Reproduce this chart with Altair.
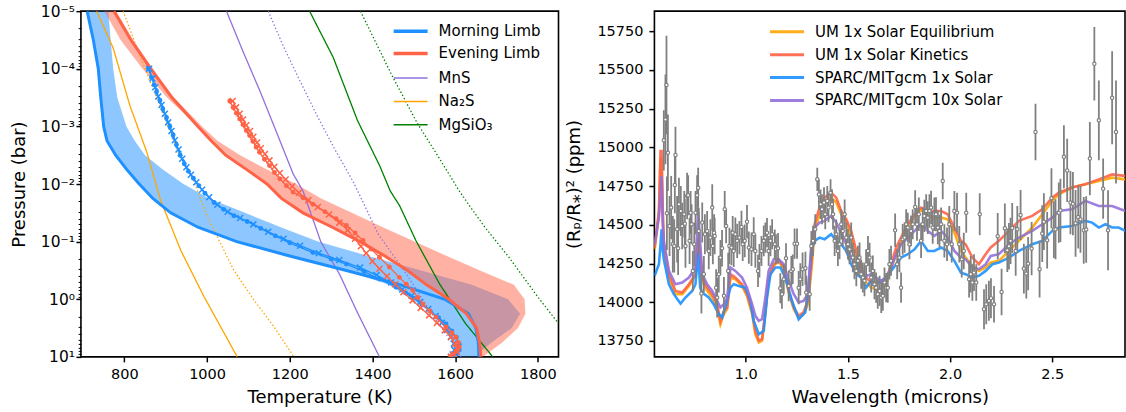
import altair as alt
import pandas as pd

# ---------------- colours ----------------
BLUE = "#1E90FF"
RED = "#FF6347"
PURPLE = "#9370DB"
ORANGE = "#FFA500"
GREEN = "#008000"
GREY = "#808080"

# ================= LEFT PANEL: T-P profiles =================
# log10(pressure / bar) levels for the limb profiles and bands
LOGP_LEVELS = [-5, -4.5, -4, -3.5, -3, -2.75, -2.5, -2.25, -2, -1.75, -1.5, -1.25,
               -1, -0.75, -0.5, -0.25, 0, 0.25, 0.5, 0.75, 0.9, 1.0]
MORNING_T = [710, 725, 737, 743, 750, 758, 779, 806, 836, 869, 912, 978,
             1072, 1200, 1337, 1468, 1575, 1632, 1650, 1656, 1657, 1657]
MORNING_BAND_LO = [710, 725, 737, 743, 750, 758, 779, 806, 836, 869, 912, 978,
                   1072, 1200, 1337, 1440, 1495, 1545, 1580, 1600, 1600, 1595]
MORNING_BAND_HI = [761, 767, 773, 783, 805, 825, 850, 893, 943, 1005, 1092, 1178,
                   1270, 1390, 1518, 1640, 1728, 1757, 1737, 1688, 1663, 1657]
EVENING_T = [775, 816, 864, 915, 978, 1010, 1045, 1096, 1145, 1180, 1232, 1303,
             1370, 1430, 1485, 1531, 1585, 1627, 1652, 1659, 1661, 1662]
EVENING_BAND_A = [752, 791, 844, 903, 978, 1010, 1045, 1096, 1145, 1180, 1232, 1303,
                  1370, 1430, 1485, 1531, 1585, 1627, 1652, 1659, 1661, 1662]
EVENING_BAND_B = [780, 821, 869, 920, 988, 1025, 1080, 1145, 1215, 1276, 1350, 1425,
                  1503, 1580, 1660, 1742, 1768, 1770, 1752, 1714, 1686, 1667]

# profiles with markers
BLUE_DOT_T = [858, 866, 872, 878, 886, 893, 902, 910, 918, 926, 935, 945, 955, 967, 980,
              995, 1017, 1040, 1065, 1097, 1130, 1165, 1200, 1256, 1300, 1337, 1380, 1417,
              1457, 1480, 1500, 1520, 1540, 1560, 1578, 1592, 1603, 1610, 1610, 1603, 1598]
BLUE_DOT_LP = [-4.0, -3.85, -3.72, -3.6, -3.45, -3.3, -3.15, -3.0, -2.85, -2.68, -2.5, -2.35,
               -2.22, -2.1, -1.97, -1.84, -1.68, -1.56, -1.45, -1.35, -1.23, -1.1, -0.98,
               -0.81, -0.7, -0.61, -0.48, -0.35, -0.21, -0.11, -0.02, 0.09, 0.21, 0.32,
               0.43, 0.55, 0.66, 0.78, 0.88, 0.96, 1.0]
BLUE_X_T = [860, 868, 875, 882, 890, 898, 906, 914, 922, 931, 940, 950, 961, 974, 988, 1005,
            1025, 1050, 1080, 1112, 1148, 1185, 1225, 1270, 1320, 1370, 1410, 1445, 1472,
            1495, 1515, 1535, 1553, 1568, 1580, 1590, 1597, 1598, 1594, 1590]
BLUE_X_LP = [-4.0, -3.83, -3.68, -3.52, -3.37, -3.22, -3.07, -2.92, -2.76, -2.6, -2.44, -2.29,
             -2.16, -2.03, -1.9, -1.77, -1.64, -1.52, -1.41, -1.3, -1.17, -1.05, -0.93, -0.8,
             -0.68, -0.55, -0.42, -0.29, -0.17, -0.06, 0.05, 0.17, 0.29, 0.41, 0.53, 0.65,
             0.77, 0.88, 0.96, 1.0]
RED_DOT_T = [1055, 1063, 1071, 1079, 1087, 1095, 1103, 1111, 1119, 1127, 1139, 1151, 1163,
             1176, 1192, 1208, 1232, 1256, 1285, 1312, 1337, 1358, 1377, 1397, 1417, 1441,
             1465, 1482, 1498, 1510, 1522, 1538, 1554, 1578, 1592, 1602, 1608, 1610, 1604,
             1594, 1588]
RED_DOT_LP = [-3.44, -3.33, -3.23, -3.13, -3.03, -2.93, -2.84, -2.74, -2.64, -2.55, -2.43,
              -2.32, -2.2, -2.09, -1.97, -1.86, -1.76, -1.65, -1.52, -1.4, -1.28, -1.15,
              -1.02, -0.87, -0.73, -0.56, -0.38, -0.26, -0.15, -0.03, 0.08, 0.2, 0.31, 0.48,
              0.58, 0.66, 0.75, 0.83, 0.9, 0.95, 1.0]
RED_X_T = [1062, 1070, 1079, 1087, 1095, 1104, 1112, 1121, 1130, 1140, 1151, 1163, 1176,
           1190, 1206, 1222, 1245, 1268, 1295, 1320, 1340, 1358, 1372, 1385, 1400, 1417,
           1435, 1455, 1475, 1497, 1517, 1537, 1556, 1575, 1590, 1600, 1605, 1604, 1598, 1590]
RED_X_LP = [-3.44, -3.33, -3.22, -3.12, -3.02, -2.92, -2.82, -2.72, -2.62, -2.52, -2.41, -2.3,
            -2.19, -2.08, -1.96, -1.85, -1.72, -1.6, -1.47, -1.33, -1.2, -1.05, -0.92, -0.8,
            -0.66, -0.53, -0.4, -0.26, -0.12, 0.02, 0.15, 0.28, 0.41, 0.54, 0.66, 0.77, 0.85,
            0.91, 0.96, 1.0]

# condensation curves
MNS_SOLID_T = [1047, 1087, 1127, 1168, 1208, 1232, 1275, 1320, 1365, 1417]
MNS_SOLID_LP = [-5, -4.3, -3.63, -2.9, -2.18, -1.88, -1.0, -0.44, 0.25, 1.0]
MNS_DOT_T = [1148, 1184, 1224, 1268, 1310, 1355, 1414, 1482, 1538, 1594, 1614]
MNS_DOT_LP = [-5, -4.4, -3.8, -3.16, -2.59, -2.02, -1.13, -0.44, 0.19, 0.77, 1.0]
NA2S_SOLID_T = [733, 773, 813, 854, 888, 937, 993, 1033, 1073]
NA2S_SOLID_LP = [-5, -4.36, -3.37, -2.56, -1.71, -0.84, -0.04, 0.48, 1.0]
NA2S_DOT_T = [797, 829, 850, 895, 930, 966, 1001, 1025, 1065, 1114, 1162, 1210]
NA2S_DOT_LP = [-5, -4.39, -4.0, -3.19, -2.56, -2.09, -1.43, -1.08, -0.5, 0.02, 0.48, 1.0]
MGSIO3_SOLID_T = [1248, 1305, 1364, 1418, 1443, 1466, 1505, 1562, 1625, 1691]
MGSIO3_SOLID_LP = [-5, -4.2, -3.1, -2.31, -1.88, -1.62, -1.02, -0.27, 0.42, 1.0]
MGSIO3_DOT_T = [1371, 1444, 1508, 1558, 1610, 1635, 1672, 1730, 1800, 1850]
MGSIO3_DOT_LP = [-5, -3.93, -3.06, -2.49, -1.88, -1.62, -1.25, -0.73, -0.04, 0.42]

LIMB_NAMES = ["Morning Limb", "Evening Limb"]
COND_NAMES = ["MnS", "Na\u2082S", "MgSiO\u2083"]

# ================= RIGHT PANEL: transmission spectrum =================
EQ_KIN_WL = [0.554, 0.575, 0.583, 0.588, 0.594, 0.599, 0.624, 0.656, 0.689, 0.722, 0.754,
             0.767, 0.787, 0.811, 0.836, 0.860, 0.876, 0.893, 0.909, 0.925, 0.949, 0.982,
             1.006, 1.031, 1.047, 1.064, 1.080, 1.096, 1.112, 1.137, 1.161, 1.186, 1.210,
             1.235, 1.259, 1.283, 1.304, 1.321, 1.337, 1.361, 1.386, 1.418, 1.443, 1.467,
             1.492, 1.516, 1.541, 1.565, 1.589, 1.614, 1.638, 1.663, 1.687, 1.711, 1.736,
             1.760, 1.793, 1.826, 1.858, 1.891, 1.923, 1.956, 1.988, 2.021, 2.053, 2.076,
             2.109, 2.141, 2.174, 2.199, 2.239, 2.288, 2.337, 2.402, 2.451, 2.500, 2.532,
             2.597, 2.662, 2.728, 2.793, 2.858]
UM_EQ_PPM = [14342, 14568, 14933, 14912, 14546, 14353, 14159, 14052, 14052, 14105, 14170,
             14396, 14138, 14073, 14030, 13966, 13858, 13923, 13955, 14159, 14148, 14105,
             14041, 13923, 13794, 13740, 13751, 13934, 14148, 14235, 14267, 14213, 14062,
             13955, 13901, 13923, 13987, 14202, 14460, 14568, 14632, 14675, 14643, 14568,
             14525, 14417, 14288, 14181, 14127, 14094, 14084, 14084, 14116, 14213, 14310,
             14385, 14482, 14557, 14600, 14557, 14546, 14546, 14535, 14449, 14331, 14288,
             14235, 14202, 14224, 14256, 14267, 14331, 14396, 14482, 14568, 14654, 14696,
             14740, 14761, 14782, 14804, 14793]
UM_KIN_PPM = [14353, 14589, 14976, 14976, 14589, 14374, 14181, 14073, 14062, 14116, 14181,
              14417, 14159, 14094, 14052, 13987, 13879, 13944, 13966, 14181, 14159, 14116,
              14052, 13944, 13815, 13751, 13761, 13944, 14159, 14245, 14277, 14224, 14073,
              13966, 13912, 13934, 14009, 14245, 14503, 14611, 14675, 14707, 14675, 14589,
              14535, 14460, 14331, 14224, 14159, 14127, 14127, 14127, 14138, 14245, 14353,
              14417, 14503, 14568, 14611, 14589, 14589, 14589, 14568, 14482, 14396, 14374,
              14288, 14245, 14310, 14353, 14396, 14460, 14525, 14557, 14600, 14675, 14707,
              14740, 14761, 14793, 14825, 14815]
SPARC10_PPM = [14374, 14546, 14700, 14815, 14503, 14396, 14202, 14116, 14127, 14159, 14224,
               14589, 14181, 14116, 14073, 14009, 13966, 13987, 14030, 14224, 14202, 14159,
               14094, 13987, 13912, 13879, 13890, 14030, 14202, 14277, 14277, 14245, 14138,
               14052, 13998, 14009, 14052, 14374, 14482, 14514, 14525, 14557, 14514, 14449,
               14374, 14288, 14245, 14181, 14170, 14181, 14159, 14138, 14159, 14224, 14310,
               14374, 14417, 14460, 14503, 14460, 14428, 14460, 14417, 14331, 14288, 14277,
               14224, 14213, 14245, 14299, 14310, 14374, 14417, 14460, 14503, 14546, 14589,
               14600, 14654, 14621, 14621, 14589]
SPARC1_WL = [0.554, 0.575, 0.583, 0.588, 0.594, 0.599, 0.624, 0.648, 0.681, 0.705, 0.738,
             0.754, 0.767, 0.777, 0.787, 0.819, 0.843, 0.868, 0.884, 0.900, 0.925, 0.941,
             0.966, 0.998, 1.022, 1.039, 1.064, 1.088, 1.104, 1.121, 1.145, 1.169, 1.194,
             1.226, 1.259, 1.291, 1.304, 1.321, 1.337, 1.361, 1.386, 1.418, 1.443, 1.467,
             1.492, 1.516, 1.541, 1.565, 1.589, 1.614, 1.638, 1.663, 1.687, 1.711, 1.736,
             1.760, 1.793, 1.826, 1.858, 1.891, 1.923, 1.956, 1.988, 2.021, 2.053, 2.076,
             2.109, 2.141, 2.174, 2.207, 2.239, 2.288, 2.337, 2.402, 2.451, 2.500, 2.532,
             2.597, 2.662, 2.695, 2.728, 2.760, 2.793, 2.825, 2.858]
SPARC1_PPM = [14170, 14245, 14374, 14471, 14331, 14277, 14116, 14052, 13991, 14030, 14073,
              14116, 14320, 14094, 14062, 14030, 13987, 13922, 13901, 13966, 14094, 14116,
              14105, 14094, 14009, 13879, 13793, 13815, 14030, 14181, 14224, 14224, 14159,
              14009, 13890, 13934, 14052, 14331, 14396, 14417, 14406, 14439, 14396, 14374,
              14331, 14245, 14181, 14159, 14094, 14138, 14116, 14138, 14159, 14202, 14245,
              14288, 14310, 14342, 14396, 14331, 14331, 14353, 14331, 14267, 14191, 14181,
              14159, 14170, 14202, 14245, 14256, 14288, 14331, 14374, 14396, 14460, 14482,
              14492, 14525, 14514, 14482, 14503, 14482, 14482, 14460]
MODEL_NAMES = ["UM 1x Solar Equilibrium", "UM 1x Solar Kinetics",
               "SPARC/MITgcm 1x Solar", "SPARC/MITgcm 10x Solar"]

# observed spectrum
DATA_WL = [0.599, 0.607, 0.612, 0.619, 0.614, 0.627, 0.635, 0.643, 0.650, 0.656,
           0.653, 0.664, 0.669, 0.673, 0.682, 0.689, 0.699, 0.702, 0.705, 0.713,
           0.718, 0.725, 0.730, 0.735, 0.741, 0.748, 0.754, 0.762, 0.767, 0.770,
           0.783, 0.787, 0.795, 0.800, 0.811, 0.819, 0.827, 0.836, 0.839, 0.845,
           0.848, 0.855, 0.860, 0.868, 0.876, 0.884, 0.893, 0.897, 0.904, 0.914,
           0.920, 0.930, 0.936, 0.941, 0.949, 0.958, 0.969, 0.979, 0.985, 0.995,
           1.006, 1.015, 1.028, 1.039, 1.047, 1.060, 1.067, 1.077, 1.088, 1.096,
           1.104, 1.112, 1.121, 1.129, 1.142, 1.148, 1.158, 1.169, 1.177, 1.186,
           1.197, 1.210, 1.223, 1.230, 1.239, 1.251, 1.259, 1.267, 1.278, 1.292,
           1.296,
           1.313, 1.321, 1.329, 1.340, 1.350, 1.358, 1.366, 1.373, 1.383, 1.389,
           1.399, 1.405, 1.415, 1.422, 1.427, 1.435, 1.443, 1.451, 1.459, 1.467,
           1.475, 1.484, 1.492, 1.500, 1.508, 1.516, 1.524, 1.532, 1.541, 1.549,
           1.557, 1.565, 1.573, 1.581, 1.589, 1.598, 1.606, 1.614, 1.622, 1.630,
           1.638, 1.646, 1.655, 1.663, 1.671, 1.679, 1.687, 1.695, 1.703, 1.711,
           1.731, 1.741, 1.752, 1.760, 1.768, 1.777, 1.785, 1.793, 1.801, 1.809,
           1.817, 1.829, 1.838, 1.847, 1.858, 1.866, 1.874, 1.883, 1.891, 1.899,
           1.907, 1.915, 1.923, 1.931, 1.940, 1.948, 1.956, 1.964, 1.972, 1.985,
           1.996, 2.008, 2.021, 2.034, 2.045, 2.057, 2.067,
           2.079, 2.093, 2.101, 2.109, 2.117, 2.128, 2.145, 2.166, 2.177, 2.190,
           2.200, 2.215, 2.233, 2.252, 2.268, 2.280, 2.288, 2.296, 2.304, 2.321,
           2.329, 2.345, 2.361, 2.373, 2.382, 2.399, 2.418, 2.438, 2.451, 2.459,
           2.475, 2.496, 2.508, 2.516, 2.532, 2.540, 2.557, 2.573, 2.589, 2.601,
           2.614, 2.627, 2.638, 2.654, 2.666, 2.684, 2.706, 2.728, 2.749, 2.773,
           2.793, 2.812]
DATA_PPM = [15045, 15180, 15402, 14965, 14574, 14492, 14611, 14374, 14363, 14950,
            14757, 14471, 14348, 14632, 14589, 14492, 14568, 14507, 14363, 14686,
            14690, 14396, 14578, 14503, 14202, 14374, 14578, 14690, 14739, 14460,
            14056, 14514, 14181, 14439, 14460, 14331, 14417, 14611, 14363, 14449,
            14428, 14094, 14030, 14181, 14288, 14348, 14041, 14600, 14492, 14202,
            14363, 14353, 14449, 14331, 14439, 14396, 14417, 14486, 14374, 14396,
            14520, 14353, 14342, 14439, 14331, 14202, 14267, 14331, 14396, 14417,
            14449, 14331, 14396, 14439, 14374, 14342, 14348, 14090, 14052, 14148,
            14284, 14105, 14202, 14213, 14378, 14378, 14094, 14148, 14213, 14219,
            14062,
            14052, 14363, 14396, 14471, 14793, 14696, 14632, 14600, 14643, 14568,
            14654, 14611, 14707, 14632, 14568, 14396, 14439, 14331, 14374, 14503,
            14460, 14568, 14417, 14374, 14342, 14417, 14288, 14245, 14202, 14267,
            14288, 14181, 14159, 14138, 14245, 14331, 14288, 14159, 14202, 14116,
            14094, 14052, 14073, 14030, 14041, 14127, 14094, 14094, 14245, 14267,
            14464, 14245, 14288, 14094, 14406, 14417, 14503, 14482, 14374, 14460,
            14503, 14615, 14503, 14568, 14396, 14503, 14557, 14589, 14546, 14589,
            14611, 14482, 14568, 14568, 14482, 14460, 14503, 14782, 14396, 14374,
            14503, 14374, 14589, 14578, 14374, 14277, 14331,
            14578, 14148, 14181, 14127, 14191, 14127, 14568, 13955, 13987, 14009,
            14026, 13987, 14426, 14066, 14477, 14335, 14361, 14396, 14479, 14331,
            14471, 14563, 14217, 14185, 14249, 14346, 15099, 14213, 14443, 14520,
            14400, 14671, 14469, 14471, 14578, 14593, 14939, 14851, 14643, 14636,
            14509, 14550, 14535, 14464, 14469, 14927, 15539, 15174, 14733, 14464,
            15320, 15099]
DATA_ERR = [194, 290, 318, 247, 237, 194, 204, 183, 172, 183,
            183, 215, 172, 172, 161, 150, 150, 161, 140, 150,
            129, 150, 140, 129, 129, 140, 140, 129, 129, 150,
            129, 129, 118, 129, 129, 118, 118, 150, 118, 118,
            118, 118, 129, 118, 114, 118, 121, 118, 112, 118,
            118, 115, 108, 104, 108, 110, 108, 104, 108, 106,
            108, 104, 108, 110, 108, 104, 108, 97, 99, 97,
            95, 97, 99, 97, 95, 97, 99, 97, 95, 97,
            97, 99, 97, 95, 97, 97, 108, 104, 108, 106,
            108,
            108, 97, 97, 97, 75, 97, 95, 97, 99, 97,
            97, 95, 86, 97, 99, 97, 95, 97, 97, 99,
            97, 95, 97, 99, 97, 97, 95, 97, 99, 97,
            97, 95, 97, 99, 97, 97, 95, 97, 99, 97,
            97, 95, 97, 99, 97, 97, 95, 97, 99, 97,
            108, 97, 95, 97, 99, 97, 97, 95, 97, 99,
            97, 108, 106, 108, 110, 108, 104, 108, 106, 108,
            108, 104, 108, 110, 108, 106, 108, 118, 108, 108,
            118, 118, 129, 129, 118, 118, 118,
            129, 118, 118, 118, 118, 118, 135, 129, 129, 129,
            129, 118, 150, 150, 161, 140, 150, 150, 161, 161,
            150, 161, 161, 161, 172, 172, 183, 183, 183, 183,
            183, 194, 183, 194, 194, 204, 204, 204, 204, 204,
            215, 204, 215, 215, 215, 237, 237, 258, 194, 258,
            301, 333]

assert len(DATA_WL) == len(DATA_PPM) == len(DATA_ERR)
assert len(EQ_KIN_WL) == len(UM_EQ_PPM) == len(UM_KIN_PPM) == len(SPARC10_PPM)
assert len(SPARC1_WL) == len(SPARC1_PPM)

# ================= data frames =================
def pressures(lps):
    return [10.0 ** v for v in lps]

P_LEVELS = pressures(LOGP_LEVELS)
band_m = pd.DataFrame({"p": P_LEVELS, "lo": MORNING_BAND_LO, "hi": MORNING_BAND_HI})
band_e = pd.DataFrame({"p": P_LEVELS, "lo": EVENING_BAND_A, "hi": EVENING_BAND_B})

limb_rows = []
for name, temps in zip(LIMB_NAMES, [MORNING_T, EVENING_T]):
    for i, (t, p) in enumerate(zip(temps, P_LEVELS)):
        limb_rows.append({"name": name, "T": t, "p": p, "idx": i})
limb_df = pd.DataFrame(limb_rows)

cond_rows = []
for name, style, temps, lps in [
    (COND_NAMES[0], "solid", MNS_SOLID_T, MNS_SOLID_LP),
    (COND_NAMES[0], "dotted", MNS_DOT_T, MNS_DOT_LP),
    (COND_NAMES[1], "solid", NA2S_SOLID_T, NA2S_SOLID_LP),
    (COND_NAMES[1], "dotted", NA2S_DOT_T, NA2S_DOT_LP),
    (COND_NAMES[2], "solid", MGSIO3_SOLID_T, MGSIO3_SOLID_LP),
    (COND_NAMES[2], "dotted", MGSIO3_DOT_T, MGSIO3_DOT_LP),
]:
    for i, (t, p) in enumerate(zip(temps, pressures(lps))):
        cond_rows.append({"name": name, "style": style, "cid": name + style,
                          "T": t, "p": p, "idx": i})
cond_df = pd.DataFrame(cond_rows)


def prof_df(temps, lps):
    return pd.DataFrame({"T": temps, "p": pressures(lps), "idx": list(range(len(temps)))})


bdot_df = prof_df(BLUE_DOT_T, BLUE_DOT_LP)
bx_df = prof_df(BLUE_X_T, BLUE_X_LP)
rdot_df = prof_df(RED_DOT_T, RED_DOT_LP)
rx_df = prof_df(RED_X_T, RED_X_LP)

model_rows = []
for name, wls, vals in [(MODEL_NAMES[0], EQ_KIN_WL, UM_EQ_PPM),
                        (MODEL_NAMES[1], EQ_KIN_WL, UM_KIN_PPM),
                        (MODEL_NAMES[2], SPARC1_WL, SPARC1_PPM),
                        (MODEL_NAMES[3], EQ_KIN_WL, SPARC10_PPM)]:
    for w, v in zip(wls, vals):
        model_rows.append({"model": name, "wl": w, "ppm": v})
model_df = pd.DataFrame(model_rows)

obs_df = pd.DataFrame({"wl": DATA_WL, "ppm": DATA_PPM,
                       "lo": [v - e for v, e in zip(DATA_PPM, DATA_ERR)],
                       "hi": [v + e for v, e in zip(DATA_PPM, DATA_ERR)]})

# ================= scales and axes =================
X_L = alt.Scale(domain=[695, 1850], nice=False, zero=False)
Y_L = alt.Scale(type="log", domain=[1e-5, 10], reverse=True, nice=False)

MAJOR_TEST = "abs(log(datum.value)/LN10 - round(log(datum.value)/LN10)) < 0.01"
SUPS = "['\u2070','\u00b9','\u00b2','\u00b3','\u2074','\u2075','\u2076']"
LABEL_EXPR = ("(" + MAJOR_TEST + ") ? ('10' + (round(log(datum.value)/LN10) < 0 ? '\u207b' : '') + "
              + SUPS + "[abs(round(log(datum.value)/LN10))]) : ''")
Y_TICKS = [10.0 ** e for e in range(-5, 2)] + [m * 10.0 ** e for e in range(-5, 1) for m in range(2, 10)]

AX_YL = alt.Axis(title="Pressure (bar)", values=Y_TICKS, labelExpr=LABEL_EXPR, labelOverlap=False,
                 tickSize={"condition": {"test": MAJOR_TEST, "value": 5}, "value": 2.8},
                 tickWidth={"condition": {"test": MAJOR_TEST, "value": 1.5}, "value": 1.0},
                 labelPadding=1.5, labelFontSize=15.5, minExtent=37, maxExtent=37, titlePadding=15)
AX_XL = alt.Axis(title="Temperature (K)", values=[800, 1000, 1200, 1400, 1600, 1800], format="d",
                 tickSize=5, labelPadding=6, minExtent=26, maxExtent=26, titlePadding=6,
                 labelFlush=False)

X_R = alt.Scale(domain=[0.553, 2.856], nice=False, zero=False)
Y_R = alt.Scale(domain=[13647, 15879], nice=False, zero=False)
AX_XR = alt.Axis(title="Wavelength (microns)", values=[1.0, 1.5, 2.0, 2.5], format=".1f",
                 tickSize=5, labelPadding=6, minExtent=26, maxExtent=26, titlePadding=6,
                 labelFlush=False)
AX_YR = alt.Axis(title="(R\u209a/R\u204e)\u00b2 (ppm)", values=list(range(13750, 15751, 250)),
                 format="d", tickSize=5.5, labelPadding=6, minExtent=60, maxExtent=60,
                 titlePadding=11)

LEG_SHAPE = "M-2.5,0H2.5"


def xL(f):
    return alt.X(f, type="quantitative", scale=X_L, axis=AX_XL)


def yL(f):
    return alt.Y(f, type="quantitative", scale=Y_L, axis=AX_YL)


def xR(f):
    return alt.X(f, type="quantitative", scale=X_R, axis=AX_XR)


def yR(f):
    return alt.Y(f, type="quantitative", scale=Y_R, axis=AX_YR)


# ================= left layers =================
area_m = alt.Chart(band_m).mark_area(orient="horizontal", color=BLUE, opacity=0.5, clip=True).encode(
    y=yL("p"), x=xL("lo"), x2=alt.X2("hi"))
area_e = alt.Chart(band_e).mark_area(orient="horizontal", color=RED, opacity=0.5, clip=True).encode(
    y=yL("p"), x=xL("lo"), x2=alt.X2("hi"))

cond = alt.Chart(cond_df).mark_line(strokeWidth=1.3, clip=True).encode(
    x=xL("T"), y=yL("p"),
    stroke=alt.Stroke("name:N", scale=alt.Scale(domain=COND_NAMES, range=[PURPLE, ORANGE, GREEN]),
                      legend=alt.Legend(title=None, orient="none", legendX=322, legendY=59,
                                        symbolType=LEG_SHAPE, symbolSize=185, symbolStrokeWidth=1.5,
                                        labelOffset=20, rowPadding=7.3, padding=0, labelFontSize=15,
                                        labelLimit=300)),
    strokeDash=alt.StrokeDash("style:N", scale=alt.Scale(domain=["solid", "dotted"],
                                                          range=[[1, 0], [1.4, 2.2]]), legend=None),
    detail="cid:N", order="idx:Q")

limb = alt.Chart(limb_df).mark_line(strokeWidth=3, clip=True).encode(
    x=xL("T"), y=yL("p"),
    color=alt.Color("name:N", scale=alt.Scale(domain=LIMB_NAMES, range=[BLUE, RED]),
                    legend=alt.Legend(title=None, orient="none", legendX=321, legendY=11,
                                      symbolType=LEG_SHAPE, symbolSize=185, symbolStrokeWidth=3.5,
                                      labelOffset=19, rowPadding=5.3, padding=0, labelFontSize=15,
                                      labelLimit=300)),
    order="idx:Q")

XSHAPE = "M-1,-1L1,1M1,-1L-1,1"


def marker_layers(df, col, shape):
    line = alt.Chart(df).mark_line(color=col, strokeWidth=1.3, clip=True).encode(
        x=xL("T"), y=yL("p"), order="idx:Q")
    if shape == "circle":
        pts = alt.Chart(df).mark_point(shape="circle", filled=True, color=col, size=24,
                                       opacity=1, clip=True).encode(x=xL("T"), y=yL("p"))
    else:
        pts = alt.Chart(df).mark_point(shape=XSHAPE, filled=False, color=col, size=36,
                                       strokeWidth=1.5, opacity=1, clip=True).encode(x=xL("T"), y=yL("p"))
    return [line, pts]


left = alt.layer(
    area_m, area_e, cond, limb,
    *marker_layers(bdot_df, BLUE, "circle"),
    *marker_layers(bx_df, BLUE, "x"),
    *marker_layers(rdot_df, RED, "circle"),
    *marker_layers(rx_df, RED, "x"),
).properties(width=478, height=346)

# ================= right layers =================
models = alt.Chart(model_df).mark_line(strokeWidth=2.6, opacity=0.9, clip=True).encode(
    x=xR("wl"), y=yR("ppm"),
    color=alt.Color("model:N", scale=alt.Scale(domain=MODEL_NAMES, range=[ORANGE, RED, BLUE, PURPLE]),
                    legend=alt.Legend(title=None, orient="none", legendX=124.2, legendY=12.2,
                                      symbolType=LEG_SHAPE, symbolSize=185, symbolStrokeWidth=3,
                                      labelOffset=19.5, rowPadding=5.9, padding=0, labelFontSize=15,
                                      labelLimit=400)))

errbars = alt.Chart(obs_df).mark_rule(color=GREY, strokeWidth=1.8, clip=True).encode(
    x=xR("wl"), y=yR("lo"), y2=alt.Y2("hi"))
points = alt.Chart(obs_df).mark_point(shape="circle", filled=True, fill="white", stroke=GREY,
                                      strokeWidth=1.2, size=11, opacity=1, clip=True).encode(
    x=xR("wl"), y=yR("ppm"))

right = alt.layer(models, errbars, points).properties(width=471, height=346)

chart = alt.hconcat(left, right, spacing=96, bounds="flush").resolve_scale(
    color="independent", stroke="independent", x="independent", y="independent"
).properties(
    padding={"left": 10, "top": 3, "right": 0, "bottom": 0}
).configure(
    font="DejaVu Sans"
).configure_view(
    stroke="black", strokeWidth=1.6
).configure_axis(
    labelFont="DejaVu Sans", titleFont="DejaVu Sans", labelColor="black", titleColor="black",
    tickColor="black", titleFontWeight="normal", labelFontSize=14.5, titleFontSize=18,
    grid=False, domain=False, tickWidth=1.5
).configure_legend(
    labelFont="DejaVu Sans", labelColor="black", labelFontSize=15
)

chart.save("out.html", embed_options={"renderer": "svg", "actions": False})
